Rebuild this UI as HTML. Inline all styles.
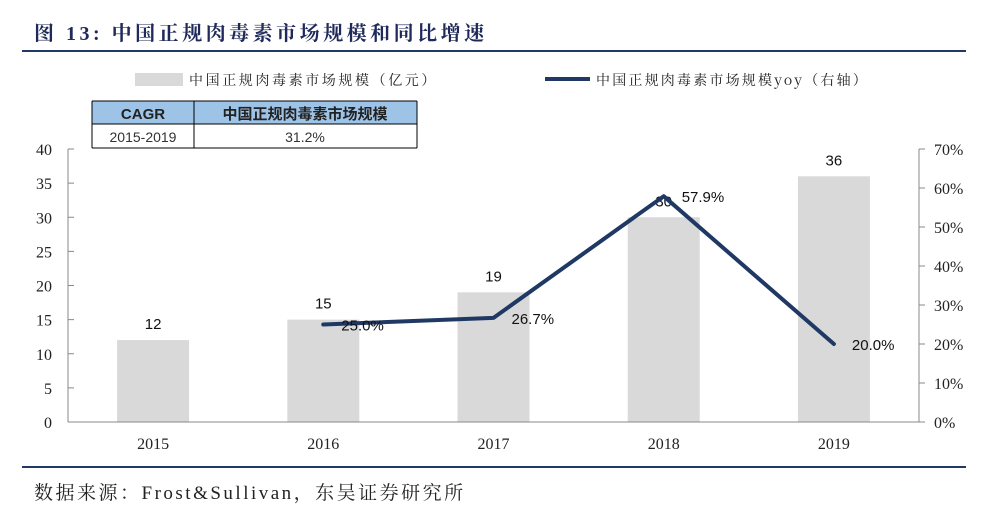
<!DOCTYPE html>
<html><head><meta charset="utf-8"><style>
body{margin:0;background:#fff;}
svg text{font-family:"Liberation Sans","Noto Sans CJK SC",sans-serif;}
</style></head><body>
<svg id="chart" width="982" height="516" viewBox="0 0 982 516" xmlns="http://www.w3.org/2000/svg">
<text x="34" y="40" font-size="20" font-weight="bold" fill="#1f2a5a" letter-spacing="3.5" style="font-family:'Liberation Serif','Noto Serif CJK SC',serif">图 13:  中国正规肉毒素市场规模和同比增速</text>
<line x1="22" y1="51" x2="966" y2="51" stroke="#1f3864" stroke-width="2"/>
<rect x="135" y="73" width="48" height="13" fill="#d9d9d9"/>
<text x="189" y="85" font-size="14" fill="#222" letter-spacing="2.6" style="font-family:'Noto Serif CJK SC',serif">中国正规肉毒素市场规模（亿元）</text>
<line x1="545" y1="79" x2="590" y2="79" stroke="#1f3864" stroke-width="4"/>
<text x="596" y="85" font-size="14" fill="#222" letter-spacing="2.2" style="font-family:'Noto Serif CJK SC',serif">中国正规肉毒素市场规模yoy（右轴）</text>
<g>
<rect x="92" y="101" width="325" height="23" fill="#9dc3e6"/>
<line x1="92" y1="101" x2="417" y2="101" stroke="#000"/>
<line x1="92" y1="124" x2="417" y2="124" stroke="#000"/>
<line x1="92" y1="148" x2="417" y2="148" stroke="#000"/>
<line x1="92" y1="101" x2="92" y2="148" stroke="#000"/>
<line x1="194" y1="101" x2="194" y2="148" stroke="#000"/>
<line x1="417" y1="101" x2="417" y2="148" stroke="#000"/>
<text x="143" y="119" font-size="15" font-weight="bold" text-anchor="middle" fill="#222">CAGR</text>
<text x="305" y="119" font-size="15" font-weight="bold" text-anchor="middle" fill="#222">中国正规肉毒素市场规模</text>
<text x="143" y="142" font-size="14" text-anchor="middle" fill="#333">2015-2019</text>
<text x="305" y="142" font-size="14" text-anchor="middle" fill="#333">31.2%</text>
</g>
<g id="plot"></g>
<line x1="22" y1="467" x2="966" y2="467" stroke="#1f3864" stroke-width="2"/>
<text x="34" y="499" font-size="19" fill="#222" letter-spacing="2.5" style="font-family:'Liberation Serif','Noto Serif CJK SC',serif">数据来源：Frost&amp;Sullivan，东吴证券研究所</text>
</svg>
<script>
const categories=["2015","2016","2017","2018","2019"];
const marketSize=[12,15,19,30,36];
const yoyCats=["2016","2017","2018","2019"];
const yoyValues=[25.0,26.7,57.9,20.0];
const leftTicks=[0,5,10,15,20,25,30,35,40];
const rightTicks=[0,10,20,30,40,50,60,70];

const NS="http://www.w3.org/2000/svg";
const g=document.getElementById('plot');
const X0=68,X1=919,Y0=422,Y1=149;
const band=(X1-X0)/categories.length;
const xc=c=>X0+band*(categories.indexOf(c)+0.5);
const yL=v=>Y0-(v/40)*(Y0-Y1);
const yR=v=>Y0-(v/70)*(Y0-Y1);
function mk(t,a,txt){const e=document.createElementNS(NS,t);for(const k in a)e.setAttribute(k,a[k]);if(txt!==undefined)e.textContent=txt;g.appendChild(e);return e;}
const serif="'Liberation Serif',serif";
leftTicks.forEach(v=>{
 const t=mk('line',{x1:X0,x2:X0+6,y1:yL(v),y2:yL(v),stroke:'#888'});
 
 
 const l=mk('text',{x:52,y:yL(v)+6,'font-size':16,'text-anchor':'end',fill:'#222',style:'font-family:'+serif},String(v));
 
 
});
rightTicks.forEach(v=>{
 const t=mk('line',{x1:X1,x2:X1+6,y1:yR(v),y2:yR(v),stroke:'#888'});
 
 
 const l=mk('text',{x:934,y:yR(v)+6,'font-size':16,fill:'#222',style:'font-family:'+serif},v+'%');
 
 
});
categories.forEach((c,i)=>{
 const v=marketSize[i];
 const b=mk('rect',{x:xc(c)-36,y:yL(v),width:72,height:Y0-yL(v),fill:'#d9d9d9'});
 
 
 const l=mk('text',{x:xc(c),y:yL(v)-11,'font-size':15,'text-anchor':'middle',fill:'#111'},String(v));
 
 
 const x=mk('text',{x:xc(c),y:449,'font-size':16,'text-anchor':'middle',fill:'#222',style:'font-family:'+serif},c);
 
 
});
const ax1=mk('line',{x1:X0,x2:X0,y1:Y1,y2:Y0,stroke:'#888'});


const ax2=mk('line',{x1:X1,x2:X1,y1:Y1,y2:Y0,stroke:'#888'});


const ax3=mk('line',{x1:X0,x2:X1,y1:Y0,y2:Y0,stroke:'#888'});


const pts=yoyCats.map((c,i)=>xc(c)+','+yR(yoyValues[i])).join(' ');
const pl=mk('polyline',{points:pts,fill:'none',stroke:'#1f3864','stroke-width':4,'stroke-linejoin':'round','stroke-linecap':'round'});


yoyCats.forEach((c,i)=>{
 const l=mk('text',{x:xc(c)+18,y:yR(yoyValues[i])+6,'font-size':15,fill:'#111'},yoyValues[i].toFixed(1)+'%');
 
 
});
</script>
</body></html>
